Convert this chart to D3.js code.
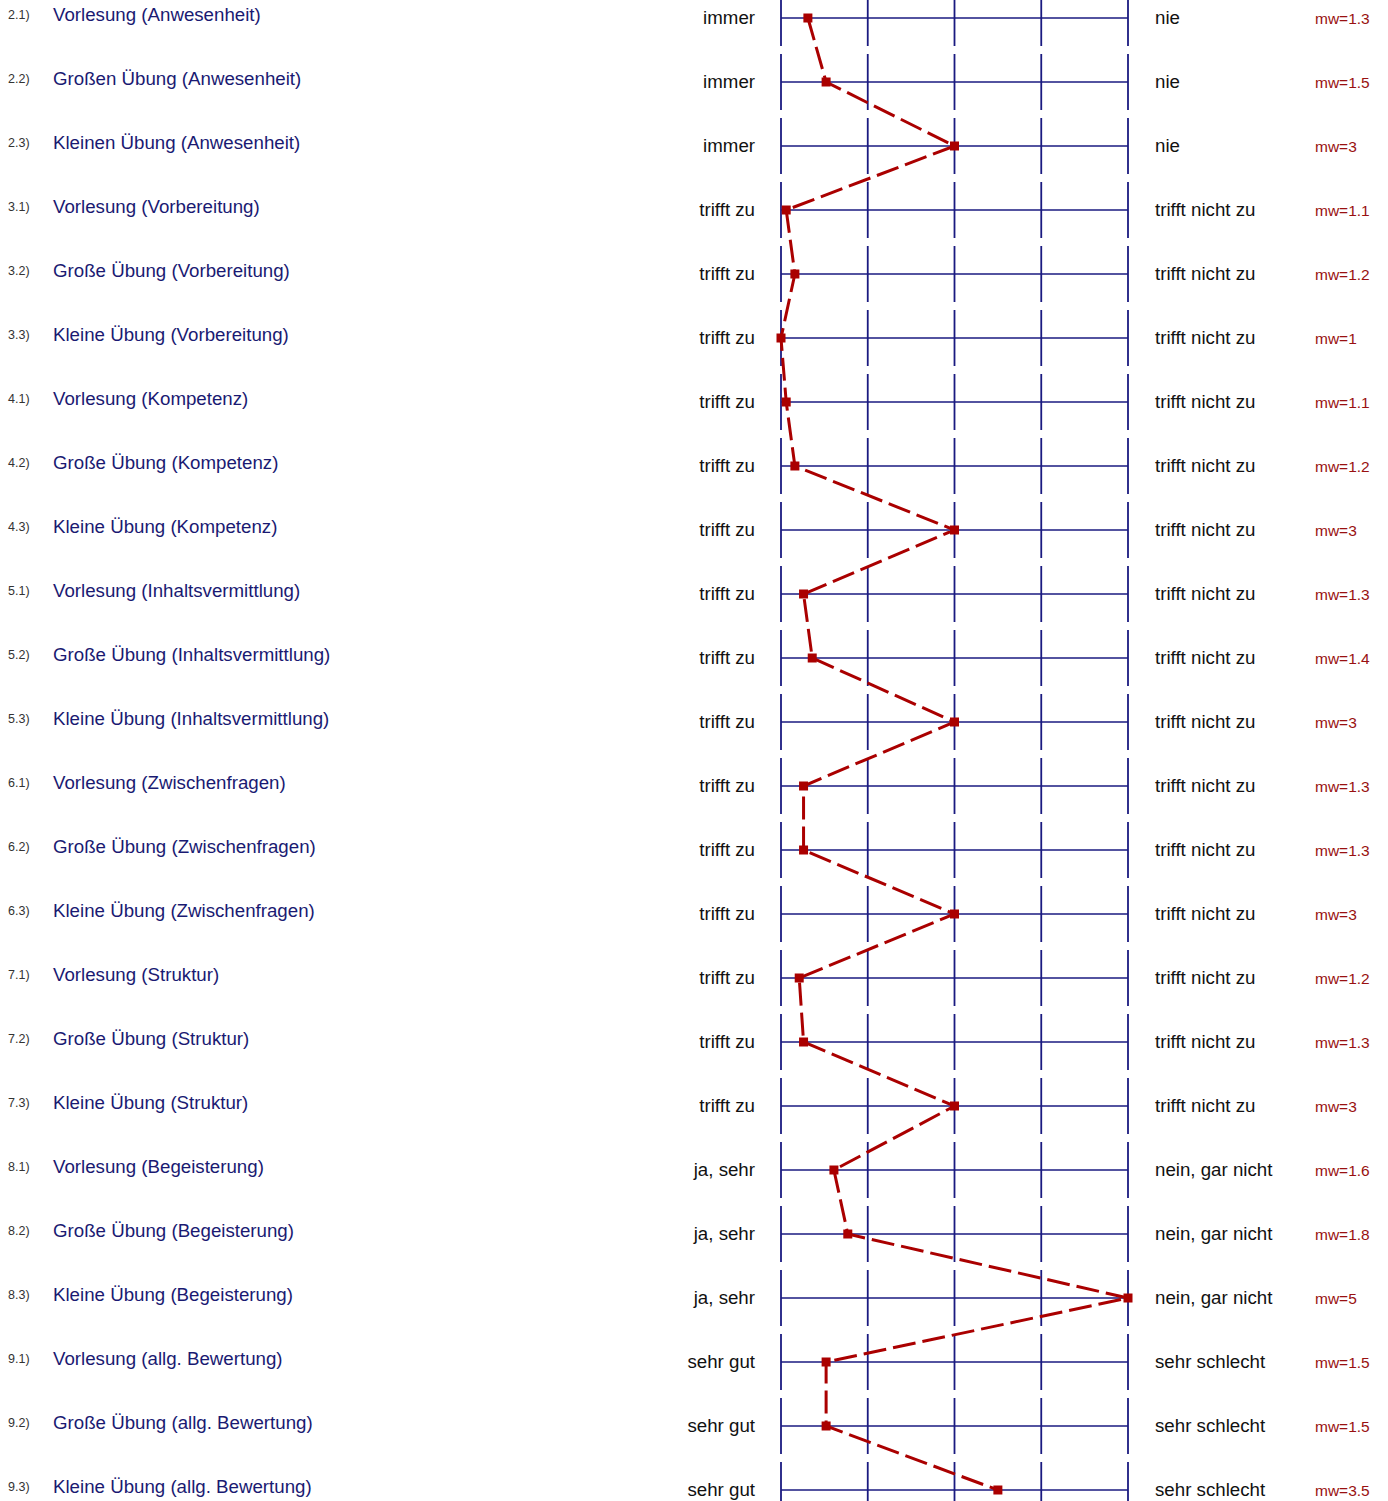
<!DOCTYPE html>
<html>
<head>
<meta charset="utf-8">
<script src="https://cdn.jsdelivr.net/npm/d3@7"></script>
<style>
html,body{margin:0;padding:0;background:#fff;}
svg{display:block;}
</style>
</head>
<body>
<svg id="chart" width="1388" height="1501"></svg>
<script>
const numbers = ["2.1)","2.2)","2.3)","3.1)","3.2)","3.3)","4.1)","4.2)","4.3)","5.1)","5.2)","5.3)","6.1)","6.2)","6.3)","7.1)","7.2)","7.3)","8.1)","8.2)","8.3)","9.1)","9.2)","9.3)"];
const questions = ["Vorlesung (Anwesenheit)","Großen Übung (Anwesenheit)","Kleinen Übung (Anwesenheit)",
"Vorlesung (Vorbereitung)","Große Übung (Vorbereitung)","Kleine Übung (Vorbereitung)",
"Vorlesung (Kompetenz)","Große Übung (Kompetenz)","Kleine Übung (Kompetenz)",
"Vorlesung (Inhaltsvermittlung)","Große Übung (Inhaltsvermittlung)","Kleine Übung (Inhaltsvermittlung)",
"Vorlesung (Zwischenfragen)","Große Übung (Zwischenfragen)","Kleine Übung (Zwischenfragen)",
"Vorlesung (Struktur)","Große Übung (Struktur)","Kleine Übung (Struktur)",
"Vorlesung (Begeisterung)","Große Übung (Begeisterung)","Kleine Übung (Begeisterung)",
"Vorlesung (allg. Bewertung)","Große Übung (allg. Bewertung)","Kleine Übung (allg. Bewertung)"];
const leftPoles = ["immer","immer","immer","trifft zu","trifft zu","trifft zu","trifft zu","trifft zu","trifft zu","trifft zu","trifft zu","trifft zu","trifft zu","trifft zu","trifft zu","trifft zu","trifft zu","trifft zu","ja, sehr","ja, sehr","ja, sehr","sehr gut","sehr gut","sehr gut"];
const rightPoles = ["nie","nie","nie","trifft nicht zu","trifft nicht zu","trifft nicht zu","trifft nicht zu","trifft nicht zu","trifft nicht zu","trifft nicht zu","trifft nicht zu","trifft nicht zu","trifft nicht zu","trifft nicht zu","trifft nicht zu","trifft nicht zu","trifft nicht zu","trifft nicht zu","nein, gar nicht","nein, gar nicht","nein, gar nicht","sehr schlecht","sehr schlecht","sehr schlecht"];
// mean values as plotted (labels show them rounded to one decimal)
const means = [1.31,1.52,3,1.06,1.16,1,1.06,1.16,3,1.26,1.36,3,1.26,1.26,3,1.21,1.26,3,1.61,1.77,5,1.52,1.52,3.5];
const scaleTicks = [1,2,3,4,5];

const svg = d3.select("#chart");
const x = d3.scaleLinear().domain([1,5]).range([781,1128]);
const y = d3.scalePoint().domain(d3.range(numbers.length)).range([18,1490]);

const navy = "#1a1a80";
const red = "#aa0000";
const font = "'Liberation Sans', Arial, sans-serif";

const rows = svg.append("g").selectAll("g").data(d3.range(numbers.length)).join("g");

// horizontal lines
rows.append("line")
  .attr("x1", x(1)).attr("x2", x(5))
  .attr("y1", d => y(d)).attr("y2", d => y(d))
  .attr("stroke", navy).attr("stroke-width", 1.4);

// vertical segments
rows.each(function(d){
  d3.select(this).selectAll("line.v").data(scaleTicks).join("line")
    .attr("class","v")
    .attr("x1", t => x(t)).attr("x2", t => x(t))
    .attr("y1", y(d) - 28).attr("y2", y(d) + 28)
    .attr("stroke", navy).attr("stroke-width", 1.8);
});

rows.append("text")
  .attr("x", 8).attr("y", d => y(d) + 1)
  .attr("font-family", font).attr("font-size", 12.5).attr("fill", "#333")
  .text(d => numbers[d]);

rows.append("text")
  .attr("x", 53).attr("y", d => y(d) + 3)
  .attr("font-family", font).attr("font-size", 18.7).attr("fill", "#1a1a72")
  .text(d => questions[d]);

rows.append("text")
  .attr("x", 755).attr("y", d => y(d) + 6).attr("text-anchor","end")
  .attr("font-family", font).attr("font-size", 18.7).attr("fill", "#111")
  .text(d => leftPoles[d]);

rows.append("text")
  .attr("x", 1155).attr("y", d => y(d) + 6)
  .attr("font-family", font).attr("font-size", 18.7).attr("fill", "#111")
  .text(d => rightPoles[d]);

rows.append("text")
  .attr("x", 1315).attr("y", d => y(d) + 6)
  .attr("font-family", font).attr("font-size", 15.5).attr("fill", "#991111")
  .text(d => "mw=" + (Math.round(means[d]*10)/10));

// profile line
const line = d3.line().x(d => x(d.v)).y(d => y(d.i));
const pts = means.map((v,i) => ({v,i}));
svg.append("path")
  .attr("d", line(pts))
  .attr("fill","none").attr("stroke", red).attr("stroke-width", 3)
  .attr("stroke-dasharray","23,7");

svg.append("g").selectAll("rect").data(pts).join("rect")
  .attr("x", d => x(d.v) - 4.5).attr("y", d => y(d.i) - 4.5)
  .attr("width", 9).attr("height", 9).attr("fill", red);
</script>
</body>
</html>
